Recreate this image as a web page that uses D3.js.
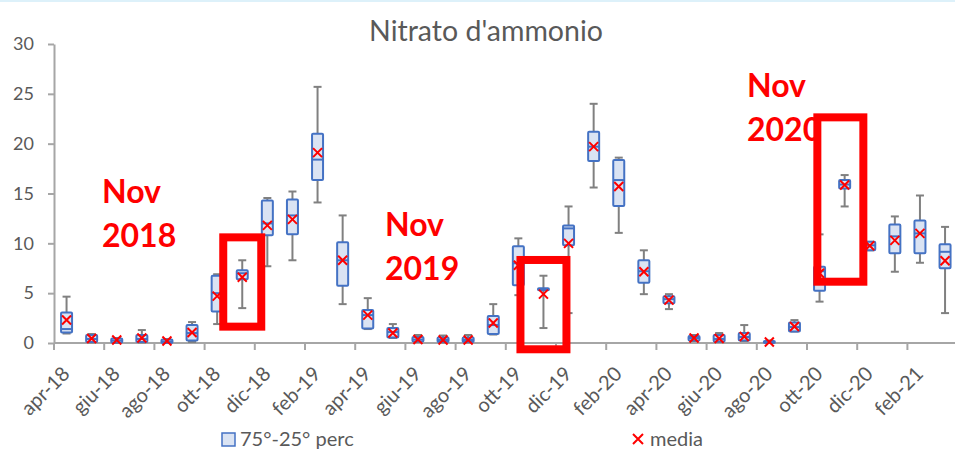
<!DOCTYPE html>
<html>
<head>
<meta charset="utf-8">
<script src="https://cdn.jsdelivr.net/npm/d3@7/dist/d3.min.js"></script>
<style>
  html, body { margin: 0; padding: 0; background: #fff; }
  svg { display: block; }
  text { font-family: Lato, "Open Sans", sans-serif; }
</style>
</head>
<body>
<svg id="chart" width="955" height="452"></svg>
<script>
// ---- data ----
const months = ['apr-18','mag-18','giu-18','lug-18','ago-18','set-18','ott-18','nov-18','dic-18','gen-19','feb-19','mar-19',
                'apr-19','mag-19','giu-19','lug-19','ago-19','set-19','ott-19','nov-19','dic-19','gen-20','feb-20','mar-20',
                'apr-20','mag-20','giu-20','lug-20','ago-20','set-20','ott-20','nov-20','dic-20','gen-21','feb-21','mar-21'];
const minV  = [0.95,0.05,0.00,0.05,0.00,0.10,1.90,3.50, 7.70, 8.30,14.10,3.90, 1.40,0.50,0.10,0.05,0.05,0.85,4.80,1.50, 3.00,15.60,11.05,4.90, 3.40,0.20,0.10,0.20,0.00,1.15, 4.15,13.70, 9.30, 7.15, 8.05, 3.00];
const q1V   = [1.05,0.10,0.05,0.10,0.00,0.25,3.15,6.40,10.80,10.90,16.35,5.75, 1.45,0.55,0.15,0.10,0.10,0.90,5.80,5.30, 9.80,18.25,13.75,6.05, 4.00,0.25,0.15,0.25,0.00,1.15, 5.25,15.50, 9.30, 9.00, 9.00, 7.50];
const medV  = [1.40,0.40,0.25,0.40,0.15,1.00,5.00,7.00,12.00,12.80,18.40,8.30, 2.80,1.10,0.35,0.30,0.30,1.80,8.00,5.40,11.50,19.70,16.35,7.20, 4.40,0.50,0.40,0.60,0.10,1.60, 7.20,15.90, 9.80,10.70,11.00, 9.15];
const q3V   = [3.05,0.80,0.45,0.80,0.35,1.80,6.75,7.30,14.30,14.40,21.00,10.10,3.30,1.50,0.60,0.55,0.55,2.70,9.70,5.50,11.80,21.20,18.35,8.30, 4.70,0.70,0.80,1.00,0.20,2.05, 7.65,16.35,10.15,11.90,12.30, 9.90];
const maxV  = [4.65,0.90,0.50,1.30,0.40,2.10,6.90,8.30,14.55,15.20,25.70,12.80,4.50,1.90,0.80,0.75,0.80,3.90,10.50,6.75,13.70,24.00,18.60,9.30,4.90,0.80,1.00,1.80,0.25,2.30,10.90,16.85,10.15,12.70,14.80,11.65];
const meanV = [2.30,0.45,0.30,0.50,0.20,1.05,4.70,6.60,11.80,12.40,19.10,8.30, 2.80,1.00,0.35,0.30,0.30,2.00,7.80,4.90,10.00,19.70,15.70,7.15, 4.30,0.50,0.45,0.65,0.10,1.65, 7.00,15.85, 9.75,10.30,11.00, 8.25];
const yTicks = [0, 5, 10, 15, 20, 25, 30];
const title = "Nitrato d'ammonio";
const legendLabels = ['75°-25° perc', 'media'];
// annotations: highlighted month and value span of the red frame
const annMonths = ['nov-18', 'nov-19', 'nov-20'];
const annLines  = [['Nov','2018'], ['Nov','2019'], ['Nov','2020']];
const annLow    = [1.64, -0.63, 6.15];
const annHigh   = [10.6, 8.33, 22.64];

// ---- layout ----
const svg = d3.select('#chart');
const W = 955, H = 452;
const plotL = 54, plotR = 957.6, plotT = 44, plotB = 343;
const x = d3.scaleBand().domain(months).range([plotL, plotR]).padding(0);
const y = d3.scaleLinear().domain([0, 30]).range([plotB, plotT]);
const cx = m => x(m) + x.bandwidth() / 2;

const axisColor = '#a6a6a6', textColor = '#595959';
const boxStroke = '#4472c4', boxFill = '#dae3f3', whiskerColor = '#808080', meanColor = '#ff0000';

svg.append('rect').attr('x', 0).attr('y', 0).attr('width', W).attr('height', 2).attr('fill', '#ddf1fa');

// title
svg.append('text').attr('x', 486).attr('y', 41).attr('text-anchor', 'middle')
  .attr('font-size', 28.5).attr('fill', textColor).text(title);

// y axis
const yAxis = svg.append('g').attr('transform', `translate(${plotL},0)`)
  .call(d3.axisLeft(y).tickValues(yTicks).tickSize(6).tickSizeOuter(0).tickPadding(14));
yAxis.select('.domain').attr('stroke', axisColor).attr('stroke-width', 2);
yAxis.selectAll('.tick line').attr('stroke', axisColor).attr('stroke-width', 2);
yAxis.selectAll('.tick text').attr('font-size', 18).attr('fill', textColor)
  .attr('font-family', 'Lato, "Open Sans", sans-serif');

// x axis
const xg = svg.append('g');
xg.append('line').attr('x1', plotL).attr('x2', W).attr('y1', plotB).attr('y2', plotB)
  .attr('stroke', axisColor).attr('stroke-width', 2);
const labelled = months.filter((m, i) => i % 2 === 0);
xg.selectAll('line.tk').data(labelled).join('line').attr('class', 'tk')
  .attr('x1', d => x(d)).attr('x2', d => x(d)).attr('y1', plotB).attr('y2', plotB + 7)
  .attr('stroke', axisColor).attr('stroke-width', 2);
xg.selectAll('text.xl').data(labelled).join('text').attr('class', 'xl')
  .attr('transform', d => `translate(${cx(d) + 4.5},${plotB + 32}) rotate(-45)`)
  .attr('text-anchor', 'end')
  .attr('font-size', 20).attr('fill', textColor).text(d => d);

// boxes
const bw = 11, cw = 8;
const data = months.map((m, i) => ({m, min: minV[i], q1: q1V[i], med: medV[i], q3: q3V[i], max: maxV[i], mean: meanV[i]}));
const g = svg.append('g').selectAll('g').data(data).join('g');
g.append('line').attr('x1', d => cx(d.m)).attr('x2', d => cx(d.m))
  .attr('y1', d => y(d.max)).attr('y2', d => y(d.min)).attr('stroke', whiskerColor).attr('stroke-width', 2);
g.append('line').attr('x1', d => cx(d.m) - cw / 2).attr('x2', d => cx(d.m) + cw / 2)
  .attr('y1', d => y(d.max)).attr('y2', d => y(d.max)).attr('stroke', whiskerColor).attr('stroke-width', 2);
g.append('line').attr('x1', d => cx(d.m) - cw / 2).attr('x2', d => cx(d.m) + cw / 2)
  .attr('y1', d => y(d.min)).attr('y2', d => y(d.min)).attr('stroke', whiskerColor).attr('stroke-width', 2);
g.append('rect').attr('x', d => cx(d.m) - bw / 2).attr('width', bw)
  .attr('y', d => y(d.q3)).attr('height', d => Math.max(1, y(d.q1) - y(d.q3)))
  .attr('fill', boxFill).attr('stroke', boxStroke).attr('stroke-width', 2).attr('rx', 1);
g.append('line').attr('x1', d => cx(d.m) - bw / 2).attr('x2', d => cx(d.m) + bw / 2)
  .attr('y1', d => y(d.med)).attr('y2', d => y(d.med)).attr('stroke', boxStroke).attr('stroke-width', 2);
const ms = 4.5;
g.append('path').attr('d', d => {
  const px = cx(d.m), py = y(d.mean);
  return `M${px - ms},${py - ms}L${px + ms},${py + ms}M${px - ms},${py + ms}L${px + ms},${py - ms}`;
}).attr('stroke', meanColor).attr('stroke-width', 2).attr('fill', 'none');

// legend
const lg = svg.append('g');
lg.append('rect').attr('x', 222).attr('y', 433).attr('width', 13).attr('height', 13)
  .attr('fill', boxFill).attr('stroke', boxStroke).attr('stroke-width', 1.5);
lg.append('text').attr('x', 240).attr('y', 446).attr('font-size', 20).attr('fill', textColor).text(legendLabels[0]);
lg.append('path').attr('d', 'M633,434L643,444M633,444L643,434').attr('stroke', meanColor).attr('stroke-width', 2);
lg.append('text').attr('x', 650).attr('y', 446).attr('font-size', 20).attr('fill', textColor).text(legendLabels[1]);

// annotations
const annTextPos = [[102, 203], [385, 236], [747, 97]];
const annDx = [0, 0, -4.3], annHalf = [19, 23, 23];
annMonths.forEach((m, i) => {
  const t = svg.append('text').attr('x', annTextPos[i][0]).attr('y', annTextPos[i][1])
    .attr('font-size', 32).attr('font-weight', 'bold').attr('fill', '#ff0000');
  annLines[i].forEach((s, j) => t.append('tspan').attr('x', annTextPos[i][0]).attr('dy', j === 0 ? 0 : 44).text(s));
});
annMonths.forEach((m, i) => {
  const c = cx(m) + annDx[i];
  svg.append('rect').attr('x', c - annHalf[i]).attr('width', 2 * annHalf[i])
    .attr('y', y(annHigh[i])).attr('height', y(annLow[i]) - y(annHigh[i]))
    .attr('fill', 'none').attr('stroke', '#ff0000').attr('stroke-width', 8);
});
</script>
</body>
</html>
